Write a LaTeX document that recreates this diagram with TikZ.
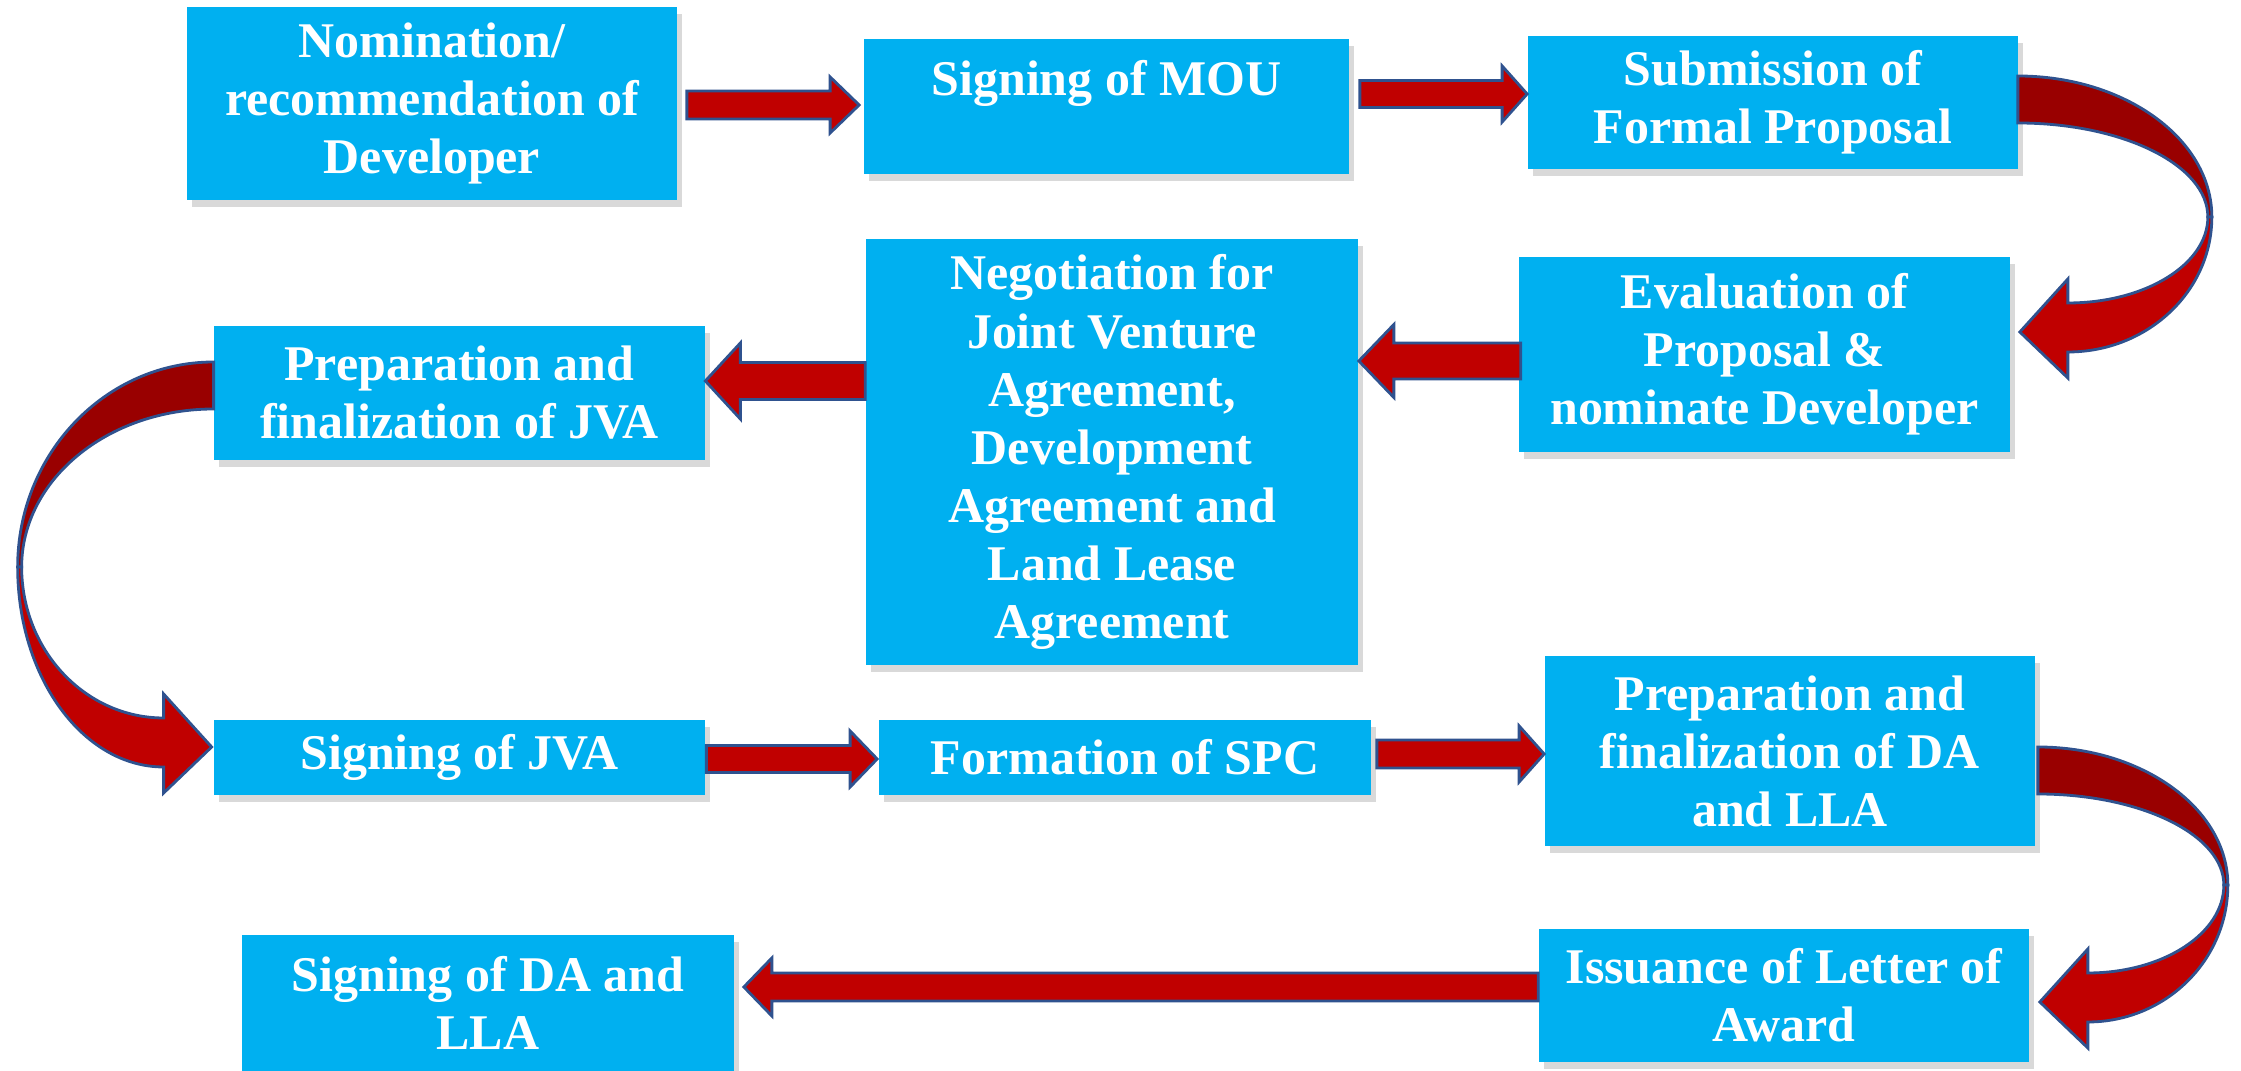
\documentclass[tikz,border=0pt]{standalone}
\usepackage{fontspec}
\setmainfont{Liberation Serif}
\usetikzlibrary{calc,shadows}

\definecolor{boxblue}{HTML}{00B0F0}
\definecolor{arrred}{HTML}{C00000}
\definecolor{arrdark}{HTML}{990000}
\definecolor{arrline}{HTML}{2F528F}

\tikzset{
  stage/.style={fill=boxblue, text=white, align=center, inner sep=0pt,
    minimum width=4.9cm, font=\fontsize{14.2}{16.5}\selectfont\bfseries,
    drop shadow={shadow xshift=0.5mm, shadow yshift=-0.7mm, opacity=0.3}},
  flowarrow/.style={fill=arrred, draw=arrline, line width=0.8pt, line join=miter},
  backband/.style={fill=arrdark, draw=arrline, line width=0.8pt},
  frontband/.style={fill=arrred, draw=arrline, line width=0.8pt, line join=miter}
}

% straight block arrow: tail, tip, half shaft, half head, head length (px)
\newcommand{\strarrow}[5]{%
  \filldraw[flowarrow] let \p1=#1, \p2=#2,
      \n1={\x2-ifthenelse(\x2>\x1,1,-1)*#5*0.28453pt},
      \n2={\y1+#3*0.28453pt}, \n3={\y1-#3*0.28453pt},
      \n4={\y1+#4*0.28453pt}, \n5={\y1-#4*0.28453pt} in
    (\x1,\n2) -- (\n1,\n2) -- (\n1,\n4) -- (\x2,\y1)
    -- (\n1,\n5) -- (\n1,\n3) -- (\x1,\n3) -- cycle;}

% bent block arrow: start, direction, reach, crossing y, tip y (px)
\newcommand{\bentarrow}[5]{%
  \begin{scope}[shift={#1}, xscale=#2]
    \def\bendr{#3}\def\bendc{#4}\def\bendt{#5}
    \filldraw[backband] (0,0) .. controls ({0.552*\bendr},0) and (\bendr,{0.448*\bendc}) .. (\bendr,\bendc)
      -- ({\bendr-4},\bendc) .. controls ({\bendr-4},{\bendc-0.552*(\bendc-47)}) and ({0.552*(\bendr-4)},47) .. (0,47) -- cycle;
    \filldraw[frontband] (\bendr,\bendc) .. controls (\bendr,{\bendc+0.552*(\bendt+20-\bendc)}) and ({50+0.552*(\bendr-50)},{\bendt+20}) .. (50,{\bendt+20})
      -- (50,{\bendt+46}) -- (2,\bendt) -- (50,{\bendt-53}) -- (50,{\bendt-29})
      .. controls ({50+0.552*(\bendr-54)},{\bendt-29}) and ({\bendr-4},{\bendc+0.552*(\bendt-29-\bendc)}) .. ({\bendr-4},\bendc) -- cycle;
  \end{scope}}

\begin{document}
\begin{tikzpicture}[x=0.01cm, y=-0.01cm]
	\useasboundingbox (0,0) rectangle (2241,1071);

	% first row
	\node[stage, minimum height=1.93cm] (nom) at (432,103.5) {Nomination/\\recommendation of\\Developer};
	\node[stage, minimum width=4.85cm, minimum height=1.35cm] (mou) at (1106.5,106.5) {Signing of MOU\\~};
	\node[stage, minimum height=1.33cm] (sub) at (1773,102.5) {Submission of\\Formal Proposal};

	% second row
	\node[stage, minimum height=1.95cm] (eval) at (1764.5,354.5) {Evaluation of\\Proposal \&\\nominate Developer};
	\node[stage, minimum width=4.92cm, minimum height=4.26cm] (neg) at (1112,452) {Negotiation for\\Joint Venture\\Agreement,\\Development\\Agreement and\\Land Lease\\Agreement};
	\node[stage, minimum height=1.34cm] (prepjva) at (459.5,393) {Preparation and\\finalization of JVA};

	% third row
	\node[stage, minimum height=0.75cm] (signjva) at (459.5,757.5) {Signing of JVA};
	\node[stage, minimum width=4.92cm, minimum height=0.75cm] (spc) at (1125,757.5) {Formation of SPC};
	\node[stage, minimum height=1.90cm] (prepda) at (1790,751) {Preparation and\\finalization of DA\\and LLA};

	% last row
	\node[stage, minimum height=1.33cm] (issue) at (1784,995.5) {Issuance of Letter of\\Award};
	\node[stage, minimum width=4.92cm, minimum height=1.36cm] (signda) at (488,1003) {Signing of DA and\\LLA};

	% straight arrows
	\strarrow{($(nom.east)+(9,1.5)$)}{($(mou.west)+(-4,0)$)}{14}{28}{29}
	\strarrow{($(mou.east)+(10,-12.5)$)}{(sub.west)}{13.5}{28}{25}
	\strarrow{($(eval.west)+(2,6.5)$)}{(neg.east)}{18}{36.5}{35}
	\strarrow{($(neg.west)+(0,-71)$)}{(prepjva.east)}{18.5}{38}{35}
	\strarrow{($(signjva.east)+(1,1.5)$)}{($(spc.west)+(-1,0)$)}{13.5}{28}{27}
	\strarrow{($(spc.east)+(5,-3.5)$)}{(prepda.west)}{14}{28}{25}
	\strarrow{($(issue.west)+(0,-8.5)$)}{($(signda.east)+(9,0)$)}{14}{29}{28}

	% bent arrows
	\bentarrow{($(sub.east)+(-1,-26.5)$)}{1}{194}{141}{256}
	\bentarrow{($(prepjva.west)+(0,-31)$)}{-1}{196}{205}{385}
	\bentarrow{($(prepda.east)+(2,-4)$)}{1}{190}{138}{255}

\end{tikzpicture}
\end{document}
